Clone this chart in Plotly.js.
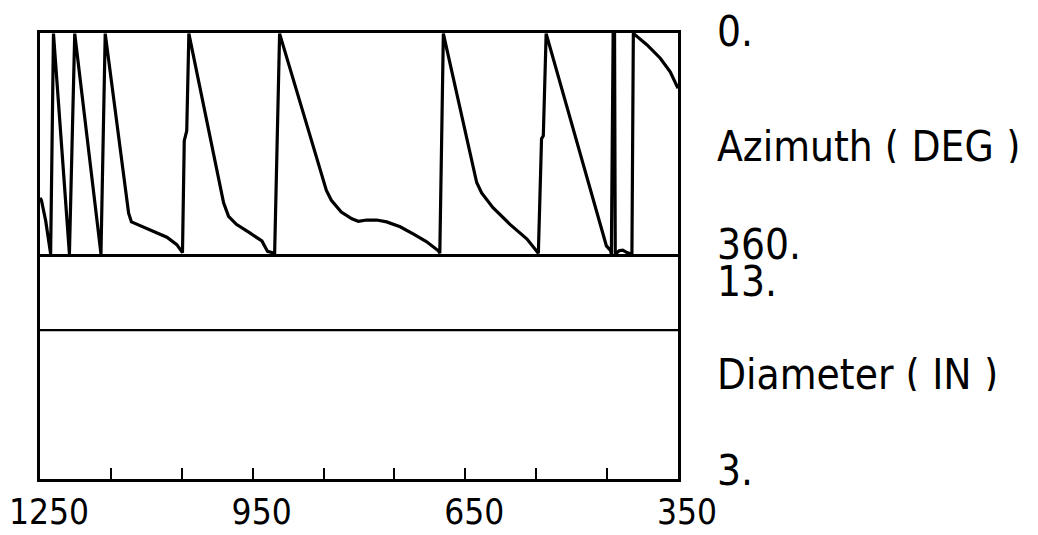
<!DOCTYPE html>
<html>
<head>
<meta charset="utf-8">
<script src="https://cdn.plot.ly/plotly-3.0.1.min.js"></script>
<style>
  html, body { margin: 0; padding: 0; background: #ffffff; }
  #chart { width: 1038px; height: 535px; }
</style>
</head>
<body>
<div id="chart"></div>
<script>
// Depth values (x axis, reversed 1250 -> 350) and azimuth readings (0 at top, 360 at bottom)
const depth = [
  1250, 1248, 1242, 1235, 1231, 1208.5, 1201, 1164, 1158,
  1125, 1121, 1109, 1090, 1071, 1057, 1050, 1049, 1046.5, 1043, 1040,
  991, 984, 973, 954, 937, 929, 919, 912,
  846, 839, 825, 810, 801, 789, 775, 761, 742, 723, 705, 688, 686, 681,
  634, 627, 611, 587, 563, 549, 547, 542.5, 540, 536,
  455, 451, 445, 444, 441.5, 439.5, 438.5, 433, 428, 422, 415, 413,
  410.5, 394, 375, 361, 350
];
const azimuth = [
  268, 272, 305, 359, 1, 359, 1, 359, 1,
  293, 307, 313, 322, 332, 344, 354, 357, 175, 159, 1,
  276, 298, 311, 325, 338, 355, 358, 1,
  256, 272, 291, 302, 306, 304, 304, 307, 315, 327, 339, 354, 358, 1,
  243, 260, 284, 311, 335, 355, 358, 172, 167, 1,
  329, 346, 354, 359, 0.5, 0.5, 359.5, 354, 353, 357, 359.5, 0.5,
  3, 19, 41, 63, 90
];

// Diameter track (inches)
const diamDepth = [1250, 1150, 1050, 950, 850, 750, 650, 550, 450, 350];
const diameter  = [9.63, 9.63, 9.63, 9.63, 9.63, 9.63, 9.63, 9.63, 9.63, 9.63];

// Axis ticks
const depthTicks = [1250, 1150, 1050, 950, 850, 750, 650, 550, 450, 350];
const depthTickText = ['1250', '', '', '950', '', '', '650', '', '', '350'];

// Right-hand scale labels
const trackLabels = ['0.', 'Azimuth ( DEG )', '360.', '13.', 'Diameter ( IN )', '3.'];
const trackLabelY = [1.0034, 0.7466, 0.5260, 0.4430, 0.2365, 0.0202];

const FONT = '"DejaVu Sans Condensed", "DejaVu Sans", sans-serif';
const SPLIT = 0.5034;

const traces = [
  {
    x: depth, y: azimuth, xaxis: 'x2', yaxis: 'y',
    type: 'scatter', mode: 'lines',
    line: { color: '#000000', width: 3.2 },
    hoverinfo: 'skip', showlegend: false
  },
  {
    x: diamDepth, y: diameter, xaxis: 'x', yaxis: 'y2',
    type: 'scatter', mode: 'lines',
    line: { color: '#000000', width: 2.4 },
    hoverinfo: 'skip', showlegend: false
  }
];

const frameAxis = {
  showline: true, linecolor: '#000000', linewidth: 3, mirror: true,
  showgrid: false, zeroline: false
};

const layout = {
  width: 1038, height: 535,
  margin: { l: 40, r: 360, t: 33, b: 56 },
  paper_bgcolor: '#ffffff', plot_bgcolor: '#ffffff',
  showlegend: false,
  font: { family: FONT, color: '#000000', size: 40 },
  xaxis: Object.assign({}, frameAxis, {
    anchor: 'y2', mirror: false, range: [1250, 350], autorange: false,
    tickmode: 'array', tickvals: depthTicks, ticktext: depthTickText,
    ticks: 'inside', ticklen: 11, tickwidth: 2, tickcolor: '#000000',
    ticklabelstandoff: 0, ticklabelshift: -9, ticklabeloverflow: 'allow',
    tickfont: { family: FONT, size: 35, color: '#000000' }
  }),
  xaxis2: Object.assign({}, frameAxis, {
    anchor: 'y', matches: 'x', range: [1250, 350], autorange: false,
    showticklabels: false, ticks: ''
  }),
  yaxis: Object.assign({}, frameAxis, {
    domain: [SPLIT, 1], range: [360, 0], autorange: false,
    showticklabels: false, ticks: ''
  }),
  yaxis2: Object.assign({}, frameAxis, {
    domain: [0, SPLIT], range: [3, 13], autorange: false,
    showticklabels: false, ticks: ''
  }),
  annotations: trackLabels.map((t, i) => ({
    text: t, xref: 'paper', yref: 'paper', x: 1, y: trackLabelY[i],
    xanchor: 'left', yanchor: 'middle', xshift: 37, showarrow: false,
    height: 34, valign: 'middle',
    font: { family: FONT, size: 42, color: '#000000' }
  }))
};

Plotly.newPlot('chart', traces, layout, { staticPlot: true, displayModeBar: false });
</script>
</body>
</html>
